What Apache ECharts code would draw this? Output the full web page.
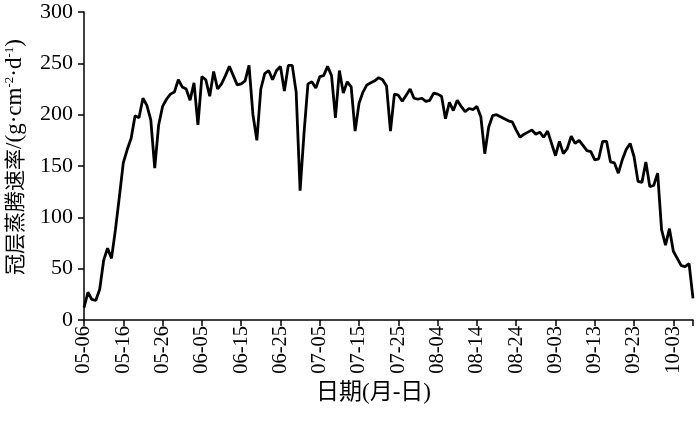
<!DOCTYPE html>
<html>
<head>
<meta charset="utf-8">
<script src="https://cdn.jsdelivr.net/npm/echarts@6/dist/echarts.min.js"></script>
<style>html,body{margin:0;padding:0;background:#fff}#c{width:700px;height:423px}</style>
</head>
<body>
<div id="c"></div>
<script>
// Daily dates 05-06 .. 10-08 (category labels)
var startMonth = 5, startDay = 6, dayCount = 156;
var monthDays = {5:31,6:30,7:31,8:31,9:30,10:31};
var dates = [];
(function(){var m=startMonth,d=startDay;for(var i=0;i<dayCount;i++){dates.push((m<10?'0':'')+m+'-'+(d<10?'0':'')+d);d++;if(d>monthDays[m]){d=1;m++;}}})();

// Canopy transpiration rate values
var transpiration = [
 12,27,20,19,30,58,70,60,88,120,
 153,166,177,199,197,216,209,195,148,190,
 208,215,220,222,234,227,225,214,231,190,
 237,234,218,242,225,230,238,247,238,229,
 230,233,248,200,175,225,240,243,234,243,
 247,223,248,248,222,126,182,230,232,226,
 237,238,247,238,197,243,221,232,227,184,
 211,222,229,231,233,236,234,228,184,220,
 219,213,219,225,216,215,216,213,214,221,
 220,218,196,212,204,214,208,203,206,205,
 208,198,162,188,199,200,198,196,194,193,
 185,178,181,183,185,181,183,178,184,172,
 160,174,162,167,179,172,175,170,165,164,
 156,157,174,174,154,153,143,156,166,172,
 159,135,134,154,130,131,143,88,73,89,
 67,60,53,52,55,21
];

var yTicks = [0,50,100,150,200,250,300];
var xName = '日期(月-日)';

var serif = '"Liberation Serif","Times New Roman","Noto Sans CJK SC",serif';
var chart = echarts.init(document.getElementById('c'), null, {renderer:'canvas'});
chart.setOption({
  animation:false,
  backgroundColor:'#fff',
  grid:{left:84,right:7,top:12,bottom:103,containLabel:false,outerBoundsMode:'none'},
  xAxis:{
    type:'category', data:dates, boundaryGap:false,
    name:xName, nameLocation:'middle', nameGap:52,
    nameTextStyle:{fontFamily:serif,fontSize:23,color:'#000',padding:[0,30,0,0]},
    axisLine:{lineStyle:{color:'#000',width:1.5}},
    axisTick:{show:true,length:6,lineStyle:{color:'#000',width:1.5},
      interval:function(i){return i%10===0 || i===dates.length-1;}},
    axisLabel:{rotate:90,fontFamily:serif,fontSize:20.5,color:'#000',margin:6,
      interval:function(i){return i%10===0;}},
    splitLine:{show:false}
  },
  yAxis:{
    type:'value', min:yTicks[0], max:yTicks[yTicks.length-1], interval:50,
    name:'{c|冠层蒸腾速率}{t|/(g·cm}{s|-2}{t|·d}{s|-1}{t|)}',
    nameLocation:'middle', nameGap:58,
    nameTextStyle:{color:'#000',padding:[0,0,0,18],
      rich:{
        c:{fontFamily:'"Noto Sans CJK SC",sans-serif',fontSize:21,color:'#000'},
        t:{fontFamily:serif,fontSize:23,color:'#000'},
        s:{fontFamily:serif,fontSize:13,color:'#000',verticalAlign:'top',padding:[0,0,9,0]}
      }},
    axisLine:{show:true,lineStyle:{color:'#000',width:1.5}},
    axisTick:{show:true,length:6,lineStyle:{color:'#000',width:1.5}},
    axisLabel:{fontFamily:serif,fontSize:22,color:'#000',margin:11},
    splitLine:{show:false}
  },
  series:[{
    type:'line', data:transpiration, showSymbol:false, smooth:false,
    lineStyle:{color:'#000',width:2.8}, itemStyle:{color:'#000'}
  }]
});
</script>
</body>
</html>
